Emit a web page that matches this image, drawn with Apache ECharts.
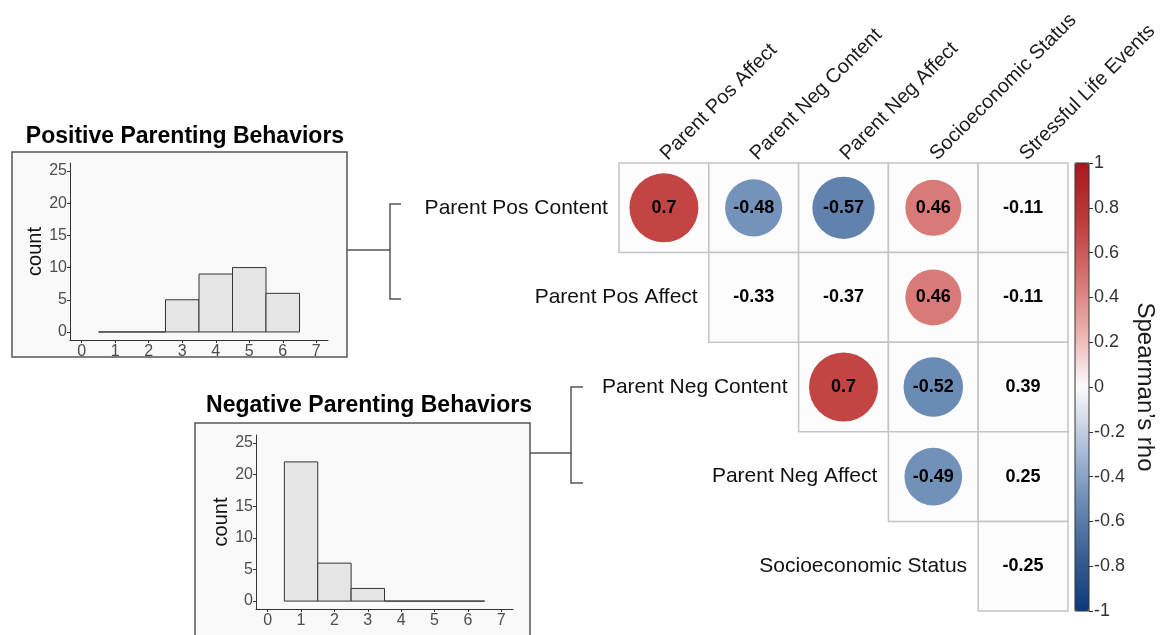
<!DOCTYPE html>
<html>
<head>
<meta charset="utf-8">
<script src="https://cdn.jsdelivr.net/npm/echarts@6/dist/echarts.min.js"></script>
<style>
  html, body { margin: 0; padding: 0; background: #fff; }
  #main { width: 1163px; height: 635px; }
</style>
</head>
<body>
<div id="main"></div>
<script>
// correlation matrix (upper triangle)
const rowNames = ['Parent Pos Content', 'Parent Pos Affect', 'Parent Neg Content', 'Parent Neg Affect', 'Socioeconomic Status'];
const colNames = ['Parent Pos Affect', 'Parent Neg Content', 'Parent Neg Affect', 'Socioeconomic Status', 'Stressful Life Events'];
const rho = [
    [0.7, -0.48, -0.57, 0.46, -0.11],
    [null, -0.33, -0.37, 0.46, -0.11],
    [null, null, 0.7, -0.52, 0.39],
    [null, null, null, -0.49, 0.25],
    [null, null, null, null, -0.25]
];
// 1 = drawn as circle
const significant = [
    [1, 1, 1, 1, 0],
    [0, 0, 0, 1, 0],
    [0, 0, 1, 1, 0],
    [0, 0, 0, 1, 0],
    [0, 0, 0, 0, 0]
];

// histograms
const binCenters = [1, 2, 3, 4, 5, 6];
const posCounts = [0, 0, 5, 9, 10, 6];
const negCounts = [22, 6, 2, 0, 0, 0];
const histXTicks = [0, 1, 2, 3, 4, 5, 6, 7];
const histYTicks = [0, 5, 10, 15, 20, 25];

const FONT = '"Liberation Sans", Arial, Helvetica, sans-serif';

var cells = [], circles = [], texts = [];
rho.forEach(function (row, i) {
    row.forEach(function (v, j) {
        if (v === null) return;
        cells.push([j, i]);
        if (significant[i][j]) circles.push([j, i, v]);
        else texts.push([j, i, v]);
    });
});
var rowLabels = rowNames.map(function (n, i) { return [i, i, n]; });

function histData(counts) {
    return binCenters.map(function (b, i) { return [b, counts[i]]; });
}

function histBar(params, api) {
    var x = api.value(0), c = api.value(1);
    var p0 = api.coord([x - 0.5, c]);
    var p1 = api.coord([x + 0.5, 0]);
    return {
        type: 'rect',
        shape: { x: p0[0], y: p0[1], width: p1[0] - p0[0], height: p1[1] - p0[1] },
        style: { fill: '#e6e6e6', stroke: '#333', lineWidth: 1 }
    };
}

function histXAxis(idx) {
    return {
        gridIndex: idx, type: 'value', min: -0.35, max: 7.35,
        axisLine: { onZero: false, lineStyle: { color: '#333', width: 1 } },
        axisTick: { customValues: histXTicks, length: 3, lineStyle: { color: '#333' } },
        axisLabel: { customValues: histXTicks, color: '#4d4d4d', fontSize: 16, margin: 4, fontFamily: FONT },
        splitLine: { show: false }
    };
}
function histYAxis(idx) {
    return {
        gridIndex: idx, type: 'value', min: -1.25, max: 26.25,
        name: 'count', nameLocation: 'middle', nameRotate: 90, nameGap: 23,
        nameTextStyle: { fontSize: 20, color: '#111', fontFamily: FONT },
        axisLine: { onZero: false, lineStyle: { color: '#333', width: 1 } },
        axisTick: { customValues: histYTicks, length: 3, lineStyle: { color: '#333' } },
        axisLabel: { customValues: histYTicks, color: '#4d4d4d', fontSize: 16, margin: 3, fontFamily: FONT },
        splitLine: { show: false }
    };
}

var chart = echarts.init(document.getElementById('main'));
chart.setOption({
    backgroundColor: '#fff',
    animation: false,
    textStyle: { fontFamily: FONT },
    title: [
        { text: 'Positive Parenting Behaviors', left: 180, top: 120, textAlign: 'center',
          textStyle: { fontSize: 23, fontWeight: 'bold', color: '#000', fontFamily: FONT } },
        { text: 'Negative Parenting Behaviors', left: 364, top: 389, textAlign: 'center',
          textStyle: { fontSize: 23, fontWeight: 'bold', color: '#000', fontFamily: FONT } }
    ],
    graphic: [
        { type: 'rect', shape: { x: 12, y: 152, width: 335, height: 205 }, z: -1,
          style: { fill: '#f9f9f9', stroke: '#555', lineWidth: 1.5 } },
        { type: 'rect', shape: { x: 195, y: 423, width: 335, height: 220 }, z: -1,
          style: { fill: '#f9f9f9', stroke: '#555', lineWidth: 1.5 } },
        { type: 'polyline', shape: { points: [[347, 250], [390, 250]] }, style: { stroke: '#555', lineWidth: 1.5, fill: null } },
        { type: 'polyline', shape: { points: [[401, 204], [390, 204], [390, 299], [401, 299]] }, style: { stroke: '#555', lineWidth: 1.5, fill: null } },
        { type: 'polyline', shape: { points: [[530, 453], [571, 453]] }, style: { stroke: '#555', lineWidth: 1.5, fill: null } },
        { type: 'polyline', shape: { points: [[583, 387], [571, 387], [571, 483], [583, 483]] }, style: { stroke: '#555', lineWidth: 1.5, fill: null } },
        // colour bar outline
        { type: 'rect', shape: { x: 1075, y: 163, width: 14, height: 448 }, z: 100,
          style: { fill: null, stroke: '#333', lineWidth: 1 } }
    ],
    grid: [
        { left: 619, top: 163, width: 449, height: 448 },
        { left: 1089, top: 163, width: 1, height: 448 },
        { left: 70, top: 163, width: 258, height: 177 },
        { left: 256, top: 435, width: 257, height: 174 }
    ],
    xAxis: [
        { gridIndex: 0, type: 'category', data: colNames, position: 'top',
          axisLine: { show: false }, axisTick: { show: false }, splitLine: { show: false },
          axisLabel: { rotate: -45, align: 'left', verticalAlign: 'middle', fontSize: 20, color: '#1a1a1a',
                       margin: 6, interval: 0, fontFamily: FONT } },
        { gridIndex: 1, type: 'value', show: false },
        histXAxis(2),
        histXAxis(3)
    ],
    yAxis: [
        { gridIndex: 0, type: 'category', data: rowNames, inverse: true, show: false },
        { gridIndex: 1, type: 'value', min: -1, max: 1, interval: 0.2, position: 'right',
          name: 'Spearman\u2019s rho', nameLocation: 'middle', nameRotate: -90, nameGap: 43,
          nameTextStyle: { fontSize: 24, color: '#1a1a1a', fontFamily: FONT },
          axisLine: { show: false }, splitLine: { show: false },
          axisTick: { show: true, length: 4, lineStyle: { color: '#333' } },
          axisLabel: { fontSize: 18, color: '#333', margin: 4, fontFamily: FONT,
                       formatter: function (v) { return String(Math.round(v * 10) / 10); } } },
        histYAxis(2),
        histYAxis(3)
    ],
    visualMap: {
        type: 'continuous', seriesIndex: 1, dimension: 2, min: -1, max: 1,
        calculable: false, hoverLink: false, text: ['', ''], showLabel: false,
        left: 1075, top: 163, itemWidth: 14, itemHeight: 448, padding: 0,
        inRange: { color: ['#0b3a7b', '#3b5f92', '#6e8fb7', '#b3c3da', '#fbfbfd', '#eab0ad', '#d4706e', '#bd3a3a', '#a8181c'] }
    },
    series: [
        { type: 'custom', xAxisIndex: 0, yAxisIndex: 0, data: cells, z: 1,
          renderItem: function (params, api) {
              var c = api.coord([api.value(0), api.value(1)]);
              var s = api.size([1, 1]);
              return { type: 'rect',
                       shape: { x: c[0] - s[0] / 2, y: c[1] - s[1] / 2, width: s[0], height: s[1] },
                       style: { fill: '#fcfcfc', stroke: '#c4c4c4', lineWidth: 1.5 } };
          } },
        { type: 'scatter', xAxisIndex: 0, yAxisIndex: 0, data: circles, z: 2,
          itemStyle: { opacity: 1 },
          symbolSize: function (v) { return 82.5 * Math.sqrt(Math.abs(v[2])); },
          label: { show: true, position: 'inside', fontSize: 18, fontWeight: 'bold', color: '#000', fontFamily: FONT,
                   formatter: function (p) { return String(p.value[2]); } } },
        { type: 'scatter', xAxisIndex: 0, yAxisIndex: 0, data: texts, z: 2,
          symbolSize: 1, itemStyle: { color: 'transparent', opacity: 1 },
          label: { show: true, position: 'inside', fontSize: 18, fontWeight: 'bold', color: '#000', fontFamily: FONT,
                   formatter: function (p) { return String(p.value[2]); } } },
        { type: 'scatter', xAxisIndex: 0, yAxisIndex: 0, data: rowLabels, z: 2,
          symbol: 'rect', symbolSize: [90, 2], itemStyle: { color: 'transparent', opacity: 1 },
          label: { show: true, position: 'left', distance: 11, fontSize: 21, color: '#111', fontFamily: FONT,
                   formatter: function (p) { return p.value[2]; } } },
        { type: 'custom', xAxisIndex: 2, yAxisIndex: 2, data: histData(posCounts), renderItem: histBar },
        { type: 'custom', xAxisIndex: 3, yAxisIndex: 3, data: histData(negCounts), renderItem: histBar }
    ]
});
</script>
</body>
</html>
